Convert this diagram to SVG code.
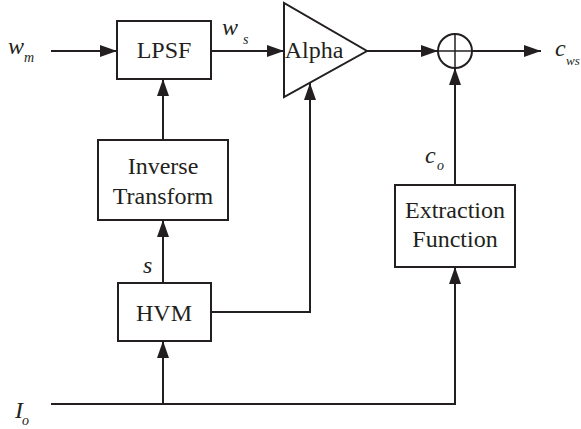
<svg xmlns="http://www.w3.org/2000/svg" width="581" height="429" viewBox="0 0 581 429">
<defs>
<style>
.box{fill:#fff;stroke:#231f20;stroke-width:2}
.ln{fill:none;stroke:#231f20;stroke-width:2}
.t{font-family:"Liberation Serif","Times New Roman",serif;font-size:24px;fill:#231f20;text-anchor:middle}
.v{font-family:"Liberation Serif","Times New Roman",serif;font-style:italic;font-size:24px;fill:#231f20}
.sub{font-family:"Liberation Serif","Times New Roman",serif;font-style:italic;font-size:14px;fill:#231f20}
</style>
<marker id="ah" markerWidth="17" markerHeight="12" refX="17" refY="6" orient="auto" markerUnits="userSpaceOnUse">
<path d="M0,0 L17,6 L0,12 Z" fill="#231f20"/>
</marker>
</defs>
<rect width="581" height="429" fill="#fff"/>
<g id="connectors">
<line class="ln" x1="51" y1="51" x2="117" y2="51" marker-end="url(#ah)"/>
<line class="ln" x1="211" y1="51" x2="284" y2="51" marker-end="url(#ah)"/>
<line class="ln" x1="367" y1="51" x2="438" y2="51" marker-end="url(#ah)"/>
<line class="ln" x1="472" y1="51" x2="541" y2="51" marker-end="url(#ah)"/>
<line class="ln" x1="163" y1="140" x2="163" y2="79" marker-end="url(#ah)"/>
<line class="ln" x1="163" y1="283" x2="163" y2="220" marker-end="url(#ah)"/>
<line class="ln" x1="163" y1="404" x2="163" y2="341" marker-end="url(#ah)"/>
<polyline class="ln" points="211,312 310,312 310,83" marker-end="url(#ah)"/>
<polyline class="ln" points="51,404 455,404 455,267" marker-end="url(#ah)"/>
<line class="ln" x1="455" y1="185" x2="455" y2="68" marker-end="url(#ah)"/>
</g>
<g id="lpsf">
<rect class="box" x="117" y="21" width="94" height="58"/>
<text class="t" x="164" y="58">LPSF</text>
</g>
<g id="alpha">
<polygon class="box" points="284,3 284,97 367,51"/>
<text class="t" x="314" y="58">Alpha</text>
</g>
<g id="sum">
<circle class="box" cx="455" cy="51" r="17"/>
<line class="ln" x1="438" y1="51" x2="472" y2="51" style="stroke-width:1.5"/>
<line class="ln" x1="455" y1="34" x2="455" y2="68" style="stroke-width:1.5"/>
</g>
<g id="inverse-transform">
<rect class="box" x="98" y="140" width="130" height="80"/>
<text class="t" x="163" y="174">Inverse</text>
<text class="t" x="163" y="204">Transform</text>
</g>
<g id="hvm">
<rect class="box" x="118" y="283" width="93" height="58"/>
<text class="t" x="164" y="321">HVM</text>
</g>
<g id="extraction">
<rect class="box" x="395" y="185" width="120" height="82"/>
<text class="t" x="455" y="218">Extraction</text>
<text class="t" x="455" y="247">Function</text>
</g>
<g id="labels">
<text class="v" x="8" y="54">w</text><text class="sub" x="24" y="62">m</text>
<text class="v" x="222" y="35">w</text><text class="sub" x="243" y="44">s</text>
<text class="v" x="555" y="56">c</text><text class="sub" x="566" y="65" style="font-size:13px">ws</text>
<text class="v" x="425" y="163">c</text><text class="sub" x="437" y="170">o</text>
<text class="v" x="143" y="273">s</text>
<text class="v" x="15" y="418">I</text><text class="sub" x="22" y="425">o</text>
</g>
</svg>
